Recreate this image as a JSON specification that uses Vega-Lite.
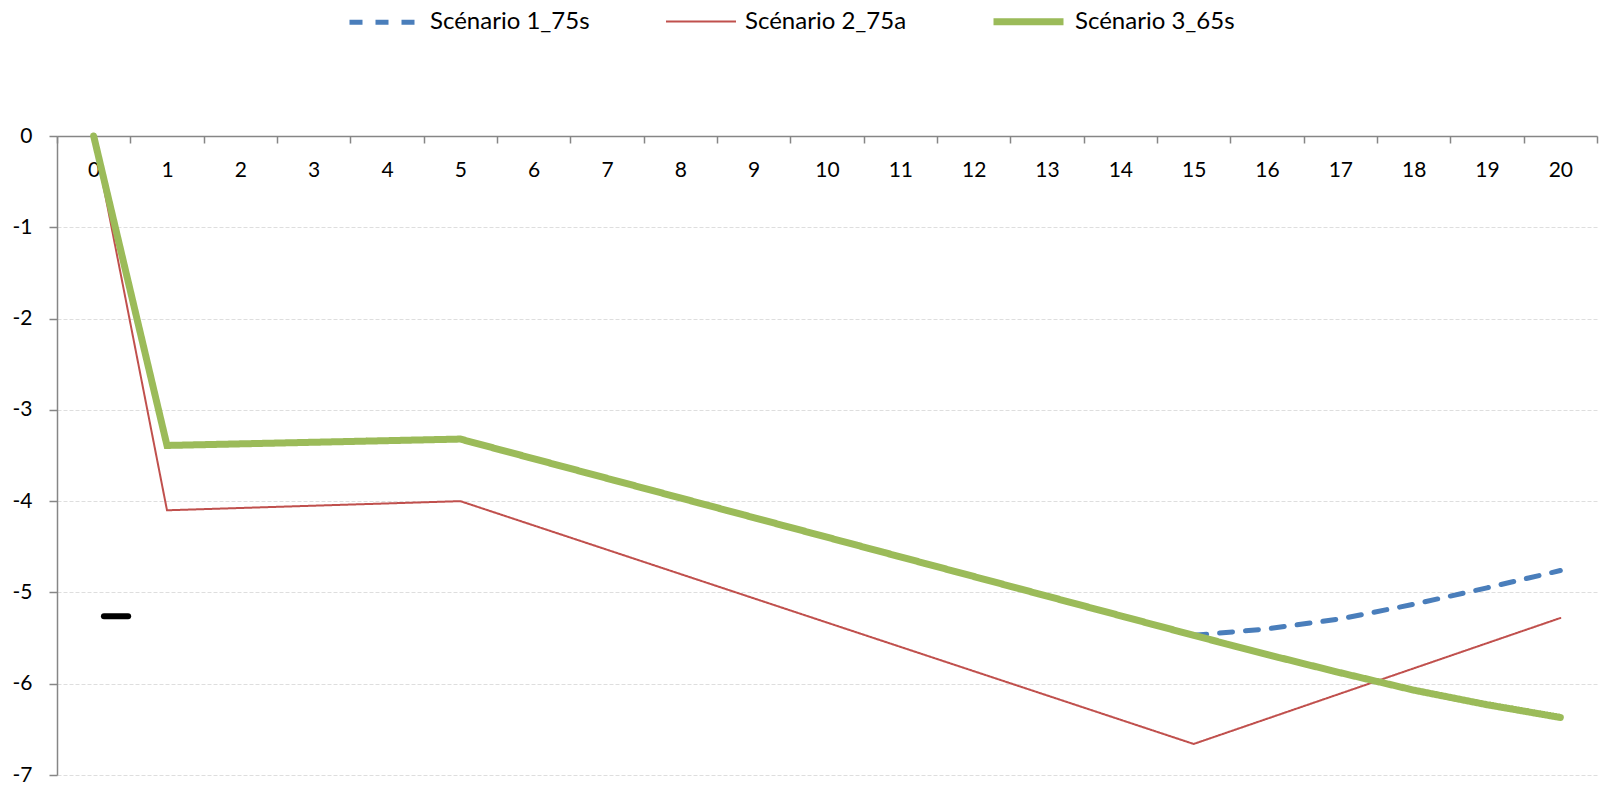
{
  "$schema": "https://vega.github.io/schema/vega-lite/v6.json",
  "width": 1540,
  "height": 639,
  "autosize": "none",
  "padding": {"left": 57, "top": 136, "right": 5, "bottom": 10},
  "background": "white",
  "config": {
    "view": {"stroke": null},
    "font": "Lato",
    "axis": {"labelFont": "Lato", "labelFontSize": 21, "labelColor": "#000000", "domainColor": "#868686", "tickColor": "#868686", "domainWidth": 1.5, "tickWidth": 1.5},
    "legend": {"labelFont": "Lato", "labelFontSize": 24, "labelColor": "#000000", "labelLimit": 0}
  },
  "datasets": {
    "scenarios": [
      {"annee": 15, "scenario": "Scénario 1_75s", "valeur": -5.47},
      {"annee": 16, "scenario": "Scénario 1_75s", "valeur": -5.40},
      {"annee": 17, "scenario": "Scénario 1_75s", "valeur": -5.29},
      {"annee": 18, "scenario": "Scénario 1_75s", "valeur": -5.13},
      {"annee": 19, "scenario": "Scénario 1_75s", "valeur": -4.95},
      {"annee": 20, "scenario": "Scénario 1_75s", "valeur": -4.76},
      {"annee": 0, "scenario": "Scénario 2_75a", "valeur": 0},
      {"annee": 1, "scenario": "Scénario 2_75a", "valeur": -4.10},
      {"annee": 5, "scenario": "Scénario 2_75a", "valeur": -4.00},
      {"annee": 15, "scenario": "Scénario 2_75a", "valeur": -6.66},
      {"annee": 20, "scenario": "Scénario 2_75a", "valeur": -5.28},
      {"annee": 0, "scenario": "Scénario 3_65s", "valeur": 0},
      {"annee": 1, "scenario": "Scénario 3_65s", "valeur": -3.39},
      {"annee": 5, "scenario": "Scénario 3_65s", "valeur": -3.32},
      {"annee": 15, "scenario": "Scénario 3_65s", "valeur": -5.47},
      {"annee": 16, "scenario": "Scénario 3_65s", "valeur": -5.68},
      {"annee": 17, "scenario": "Scénario 3_65s", "valeur": -5.88},
      {"annee": 18, "scenario": "Scénario 3_65s", "valeur": -6.07},
      {"annee": 19, "scenario": "Scénario 3_65s", "valeur": -6.23},
      {"annee": 20, "scenario": "Scénario 3_65s", "valeur": -6.37}
    ],
    "trait": [
      {"debut": 0.14, "fin": 0.47, "valeur": -5.26}
    ]
  },
  "layer": [
    {
      "data": {"name": "scenarios"},
      "mark": {"type": "line", "strokeCap": "round", "strokeJoin": "miter"},
      "encoding": {
        "x": {
          "field": "annee",
          "type": "ordinal",
          "scale": {"domain": [0, 1, 2, 3, 4, 5, 6, 7, 8, 9, 10, 11, 12, 13, 14, 15, 16, 17, 18, 19, 20], "paddingInner": 0, "paddingOuter": 0},
          "axis": {
            "title": null,
            "orient": "bottom",
            "offset": -639,
            "labelAngle": 0,
            "tickBand": "extent",
            "tickSize": 7,
            "labelPadding": 27,
            "labelBaseline": "middle",
            "grid": false
          }
        },
        "y": {
          "field": "valeur",
          "type": "quantitative",
          "scale": {"domain": [-7, 0], "nice": false, "zero": false},
          "axis": {
            "title": null,
            "values": [0, -1, -2, -3, -4, -5, -6, -7],
            "labelExpr": "'' + datum.value",
            "tickSize": 8,
            "labelPadding": 17,
            "grid": true,
            "gridColor": "#dedede",
            "gridDash": [4, 2],
            "gridWidth": 1
          }
        },
        "color": {
          "field": "scenario",
          "type": "nominal",
          "scale": {"domain": ["Scénario 1_75s", "Scénario 2_75a", "Scénario 3_65s"], "range": ["#4a7ebb", "#c0504d", "#9bbb59"]},
          "legend": {
            "title": null,
            "orient": "none",
            "direction": "horizontal",
            "legendX": 290,
            "legendY": -153,
            "symbolType": "stroke",
            "symbolSize": 4900,
            "labelOffset": 8,
            "columnPadding": 72
          }
        },
        "strokeDash": {
          "field": "scenario",
          "type": "nominal",
          "scale": {"domain": ["Scénario 1_75s", "Scénario 2_75a", "Scénario 3_65s"], "range": [[13, 13], [1, 0], [1, 0]]},
          "legend": null
        },
        "strokeWidth": {
          "field": "scenario",
          "type": "nominal",
          "scale": {"type": "ordinal", "domain": ["Scénario 1_75s", "Scénario 2_75a", "Scénario 3_65s"], "range": [5, 2, 7]},
          "legend": null
        }
      }
    },
    {
      "data": {"name": "trait"},
      "mark": {"type": "rule", "color": "#000000", "strokeWidth": 6, "strokeCap": "round"},
      "encoding": {
        "x": {"field": "debut", "type": "quantitative", "scale": {"domain": [-0.5, 20.5], "nice": false, "zero": false}, "axis": null},
        "x2": {"field": "fin"},
        "y": {"field": "valeur", "type": "quantitative"}
      }
    }
  ],
  "resolve": {"scale": {"x": "independent"}}
}
